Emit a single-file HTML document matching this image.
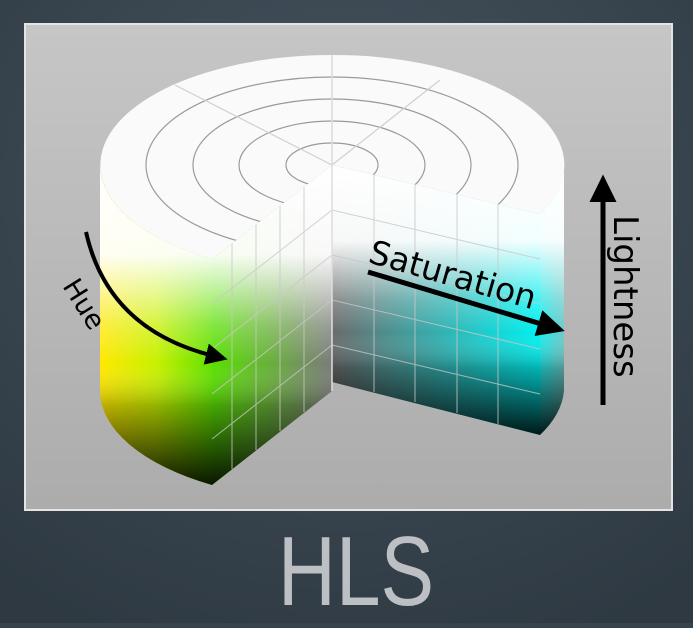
<!DOCTYPE html>
<html><head><meta charset="utf-8"><style>
html,body{margin:0;padding:0}
body{width:693px;height:623px;overflow:hidden;background:#36424c;font-family:"Liberation Sans",sans-serif}
</style></head><body>
<svg width="693" height="623" viewBox="0 0 693 623">
<defs>
 <radialGradient id="bg" cx="0.5" cy="0.3" r="0.8">
  <stop offset="0" stop-color="#46535e"/><stop offset="1" stop-color="#2e3942"/>
 </radialGradient>
 <linearGradient id="panel" x1="0" y1="0" x2="0" y2="1">
  <stop offset="0" stop-color="#c6c6c6"/><stop offset="1" stop-color="#acacac"/>
 </linearGradient>
 <linearGradient id="vshade" x1="0" y1="0" x2="0" y2="1">
  <stop offset="0" stop-color="#fff" stop-opacity="1"/>
  <stop offset="0.28" stop-color="#fff" stop-opacity="0.95"/>
  <stop offset="0.5" stop-color="#fff" stop-opacity="0.25"/>
  <stop offset="0.62" stop-color="#fff" stop-opacity="0"/>
  <stop offset="0.75" stop-color="#000" stop-opacity="0.25"/>
  <stop offset="1" stop-color="#000" stop-opacity="0.9"/>
 </linearGradient>
 <linearGradient id="leftside" x1="0" y1="0" x2="1" y2="0">
  <stop offset="0" stop-color="#ffe800"/><stop offset="0.5" stop-color="#c8f000"/><stop offset="1" stop-color="#60e000"/>
 </linearGradient>
 <linearGradient id="leftface" x1="0" y1="0" x2="1" y2="0">
  <stop offset="0" stop-color="#58e000"/><stop offset="1" stop-color="#7a7a7a"/>
 </linearGradient>
 <linearGradient id="rightface" x1="0" y1="0" x2="1" y2="0">
  <stop offset="0" stop-color="#6a6a6a"/><stop offset="1" stop-color="#00f0f0"/>
 </linearGradient>
 <linearGradient id="sideR" x1="0" y1="0" x2="1" y2="0">
  <stop offset="0" stop-color="#20e8e8"/><stop offset="1" stop-color="#70c8c8"/>
 </linearGradient>
 <clipPath id="topclip"><path d="M332,165 L212,259 A232 110 0 1 1 540,214 Z"/></clipPath>
 <marker id="ah" markerWidth="6" markerHeight="6" refX="2" refY="3" orient="auto" markerUnits="strokeWidth">
  <path d="M0,0.3 L5.5,3 L0,5.7 Z" fill="#000"/>
 </marker>
</defs>
<rect width="693" height="623" fill="url(#bg)"/>
<rect x="25" y="24" width="647" height="486" fill="url(#panel)" stroke="#e4e4e4" stroke-width="2"/>

<g>
 <path d="M100,165 L100,391 A232 110 0 0 0 212,485 L212,259 A232 110 0 0 1 100,165 Z" fill="url(#leftside)"/>
 <path d="M100,165 L100,391 A232 110 0 0 0 212,485 L212,259 A232 110 0 0 1 100,165 Z" fill="url(#vshade)"/>
 <path d="M212,259 L332,165 L332,391 L212,485 Z" fill="url(#leftface)"/>
 <path d="M212,259 L332,165 L332,391 L212,485 Z" fill="url(#vshade)"/>
 <path d="M332,165 L540,214 L540,435 L332,382 Z" fill="url(#rightface)"/>
 <path d="M332,165 L540,214 L540,435 L332,382 Z" fill="url(#vshade)"/>
 <path d="M540,214 A232 110 0 0 0 564,165 L564,391 A232 110 0 0 1 540,435 Z" fill="url(#sideR)"/>
 <path d="M540,214 A232 110 0 0 0 564,165 L564,391 A232 110 0 0 1 540,435 Z" fill="url(#vshade)"/>
 <g stroke="#c8c8c8" stroke-width="1" fill="none" opacity="0.8">
  <path d="M232,243 L232,469 M256,224 L256,450 M280,206 L280,431 M304,187 L304,412"/>
  <path d="M212,304 L332,210 M212,349 L332,255 M212,394 L332,300 M212,439 L332,345"/>
  <path d="M374,175 L374,392 M415,185 L415,402 M457,195 L457,413 M498,204 L498,424"/>
  <path d="M332,210 L540,259 M332,255 L540,304 M332,300 L540,349 M332,345 L540,394"/>
 </g>
 <path d="M332,165 L212,259 A232 110 0 1 1 540,214 Z" fill="#fafafa"/>
 <g clip-path="url(#topclip)" stroke="#9a9a9a" stroke-width="1.2" fill="none">
  <ellipse cx="332" cy="165" rx="46" ry="22"/>
  <ellipse cx="332" cy="165" rx="93" ry="44"/>
  <ellipse cx="332" cy="165" rx="139" ry="66"/>
  <ellipse cx="332" cy="165" rx="186" ry="88"/>
  <path d="M332,165 L332,55 M332,165 L440,80 M332,165 L175,85" stroke="#d0d0d0"/>
 </g>
 <path d="M332,55 L332,391" stroke="#ddd" stroke-width="1.5"/>
</g>

<g font-family="'DejaVu Sans', sans-serif" fill="#000">
<path d="M86,232 Q108,330 214,356" fill="none" stroke="#000" stroke-width="4" marker-end="url(#ah)"/>
<text x="0" y="0" font-size="27" transform="translate(62,286) rotate(58)">Hue</text>
<path d="M368,272 L548,326" stroke="#000" stroke-width="5" marker-end="url(#ah)"/>
<text x="0" y="0" font-size="33" transform="translate(367,262) rotate(16)">Saturation</text>
<path d="M603,405 L603,192" stroke="#000" stroke-width="5" marker-end="url(#ah)"/>
<text x="0" y="0" font-size="34" transform="translate(614,215) rotate(90)">Lightness</text>
</g>

<text x="356" y="605" font-size="98" text-anchor="middle" fill="#bcc0c4" transform="translate(356,0) scale(0.82,1) translate(-356,0)">HLS</text>
</svg>
</body></html>
